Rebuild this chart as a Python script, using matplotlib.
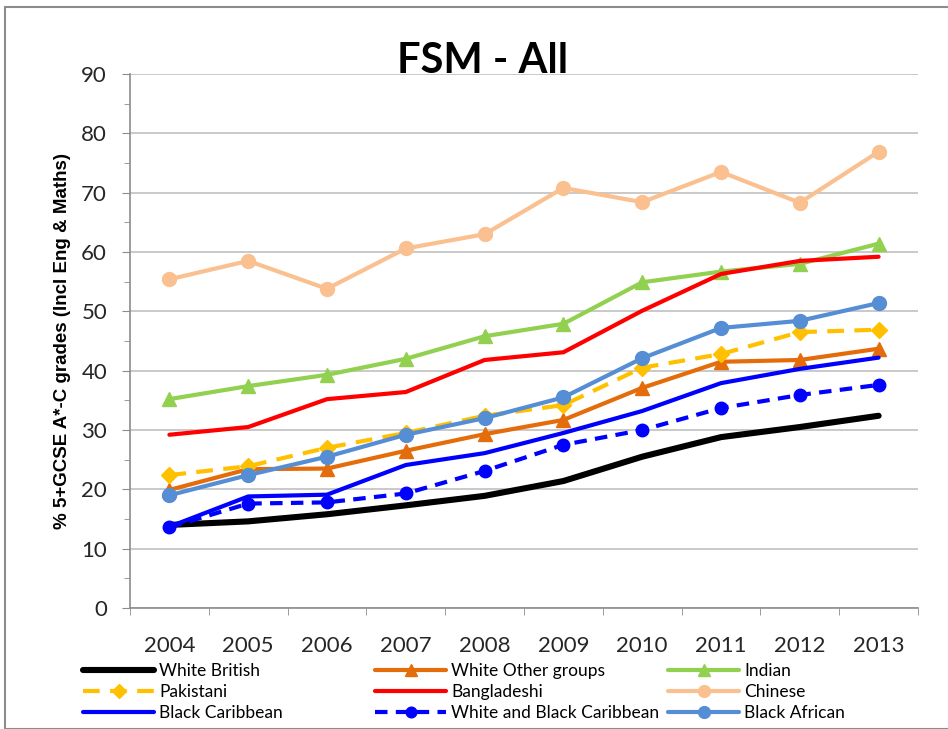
import matplotlib
matplotlib.use("Agg")
import matplotlib.pyplot as plt
from matplotlib.patches import Rectangle

years = ["2004", "2005", "2006", "2007", "2008", "2009", "2010", "2011", "2012", "2013"]

white_british = [14.0, 14.6, 15.8, 17.3, 18.9, 21.4, 25.5, 28.8, 30.5, 32.4]
white_other = [19.9, 23.4, 23.5, 26.5, 29.3, 31.7, 37.1, 41.5, 41.8, 43.7]
indian = [35.2, 37.4, 39.3, 42.0, 45.8, 47.9, 54.9, 56.7, 58.0, 61.4]
pakistani = [22.4, 23.9, 27.0, 29.5, 32.4, 34.2, 40.5, 42.8, 46.5, 46.9]
bangladeshi = [29.2, 30.5, 35.2, 36.4, 41.8, 43.1, 50.1, 56.3, 58.5, 59.2]
chinese = [55.4, 58.5, 53.8, 60.6, 63.0, 70.8, 68.4, 73.5, 68.3, 76.9]
black_caribbean = [13.7, 18.8, 19.1, 24.1, 26.1, 29.5, 33.2, 37.9, 40.3, 42.2]
white_black_caribbean = [13.6, 17.6, 17.8, 19.3, 23.1, 27.5, 30.0, 33.7, 35.9, 37.6]
black_african = [19.0, 22.4, 25.5, 29.2, 32.0, 35.5, 42.1, 47.2, 48.4, 51.4]

W, H = 948, 729
fig = plt.figure(figsize=(W / 100, H / 100), dpi=100)
fig.patches.append(Rectangle((5 / W, 0), 1, 1 - 7 / H, transform=fig.transFigure,
                             fill=False, edgecolor="#8c8c8c", linewidth=1.5))

ax = fig.add_axes([130 / W, 1 - 608 / H, (918 - 130) / W, (608 - 74) / H])
x = list(range(len(years)))

series = [
    ("White British", white_british, dict(color="black", lw=4.4, ls="-", marker=None)),
    ("White Other groups", white_other, dict(color="#E46C0A", lw=3.0, ls="-", marker="^", ms=10)),
    ("Indian", indian, dict(color="#92D050", lw=3.0, ls="-", marker="^", ms=10)),
    ("Pakistani", pakistani, dict(color="#FFC000", lw=3.0, ls=(0, (4, 2.5)), marker="D", ms=8)),
    ("Bangladeshi", bangladeshi, dict(color="#FF0000", lw=3.0, ls="-", marker=None)),
    ("Chinese", chinese, dict(color="#FAC090", lw=3.0, ls="-", marker="o", ms=10)),
    ("Black Caribbean", black_caribbean, dict(color="#0000FF", lw=3.0, ls="-", marker=None)),
    ("White and Black Caribbean", white_black_caribbean, dict(color="#0000FF", lw=3.0, ls=(0, (3, 2)), marker="o", ms=9)),
    ("Black African", black_african, dict(color="#558ED5", lw=3.0, ls="-", marker="o", ms=10)),
]

handles = {}
for name, vals, st in series:
    kw = dict(color=st["color"], linewidth=st["lw"], linestyle=st["ls"], solid_capstyle="round",
              dash_capstyle="butt")
    if st["marker"]:
        kw.update(marker=st["marker"], markersize=st["ms"], markerfacecolor=st["color"],
                  markeredgecolor=st["color"])
    h, = ax.plot(x, vals, label=name, **kw)
    handles[name] = h

ax.set_xlim(-0.5, 9.5)
ax.set_ylim(0, 90)
ax.set_yticks(range(0, 91, 10))
ax.set_yticks(range(5, 90, 10), minor=True)
ax.set_xticks(x)
ax.set_xticklabels(years)
ax.set_xticks([i - 0.5 for i in range(11)], minor=True)
ax.tick_params(axis="x", which="major", length=0, pad=20.5, labelsize=16)
ax.tick_params(axis="x", which="minor", length=5, color="#8c8c8c", direction="out")
ax.tick_params(axis="y", which="major", length=6, color="#8c8c8c", labelsize=16, pad=10.5)
ax.tick_params(axis="y", which="minor", length=4, color="#8c8c8c")
for lab in ax.get_xticklabels() + ax.get_yticklabels():
    lab.set_fontfamily("Lato")
    lab.set_color("#262626")
ax.grid(axis="y", which="major", color="#c0c0c0", linewidth=1.2)
ax.set_axisbelow(True)
for s in ["top", "right"]:
    ax.spines[s].set_visible(False)
for s in ["left", "bottom"]:
    ax.spines[s].set_color("#8c8c8c")
    ax.spines[s].set_linewidth(1.2)

ax.set_ylabel("% 5+GCSE A*-C grades (Incl Eng & Maths)", fontsize=13.5, fontweight="bold",
              fontfamily="Liberation Sans", labelpad=7)

fig.text(483 / W, 1 - 73 / H, "FSM - All", ha="center", va="baseline", fontsize=30,
         fontweight="bold", fontfamily="Lato")

cols = [
    (["White British", "Pakistani", "Black Caribbean"], 83),
    (["White Other groups", "Bangladeshi", "White and Black Caribbean"], 375),
    (["Indian", "Chinese", "Black African"], 668),
]
for names, xpx in cols:
    fig.legend([handles[n] for n in names], names, loc="upper left",
               bbox_to_anchor=(xpx / W, 1 - 663 / H), frameon=False, borderaxespad=0,
               prop=dict(family="Lato", size=12.5), handlelength=4.1, handletextpad=0.3,
               labelspacing=0.3, borderpad=0, numpoints=1, markerscale=0.85)

fig.savefig("out.png", dpi=100)
